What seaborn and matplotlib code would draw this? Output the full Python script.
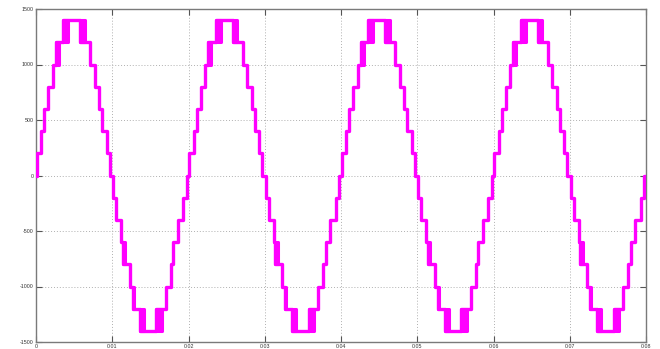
import matplotlib
matplotlib.use("Agg")
import matplotlib.pyplot as plt
import seaborn as sns
import numpy as np

# ---- data (one 50 Hz period, repeated 4 times) ----
period_starts = [0.0, 0.02, 0.04, 0.06]
# transition start time, transition end time (chatter band), level after transition
trans_start = [0.0001, 0.0007, 0.00105, 0.0016, 0.0022, 0.0026, 0.0036,
               0.0058, 0.0071, 0.0077, 0.0083, 0.0087, 0.0093, 0.0097,
               0.0101, 0.0105, 0.0112, 0.0114, 0.0123, 0.0127, 0.0136,
               0.0158, 0.0170, 0.0177, 0.0180, 0.0186, 0.0193, 0.0198]
trans_end = [0.0001, 0.0007, 0.00105, 0.0016, 0.0022, 0.0030, 0.0042,
             0.0064, 0.0071, 0.0077, 0.0083, 0.0087, 0.0093, 0.0097,
             0.0101, 0.0105, 0.0112, 0.0117, 0.0123, 0.0128, 0.0141,
             0.0165, 0.0170, 0.0177, 0.0180, 0.0186, 0.0193, 0.0198]
trans_level = [200, 400, 600, 800, 1000, 1200, 1400,
               1200, 1000, 800, 600, 400, 200, 0,
               -200, -400, -600, -800, -1000, -1200, -1400,
               -1200, -1000, -800, -600, -400, -200, 0]
x_ticks = [0, 0.01, 0.02, 0.03, 0.04, 0.05, 0.06, 0.07, 0.08]
x_tick_labels = ["0", "0.01", "0.02", "0.03", "0.04", "0.05", "0.06", "0.07", "0.08"]
y_ticks = [-1500, -1000, -500, 0, 500, 1000, 1500]
y_tick_labels = ["-1500", "-1000", "-500", "0", "500", "1000", "1500"]

MAG = "#ff00ff"

sns.set_theme(style="white")
plt.rcParams["font.family"] = ["Liberation Sans Narrow", "Liberation Sans", "DejaVu Sans"]

fig = plt.figure(figsize=(6.6, 3.49), dpi=100)
ax = fig.add_axes([36 / 660, 1 - 342 / 349, (646 - 36) / 660, (342 - 9) / 349])

# build staircase
t_pts = [0.0]
v_pts = [0]
bands = []
for p in period_starts:
    prev = v_pts[-1]
    for s, e, lv in zip(trans_start, trans_end, trans_level):
        t_pts.append(p + s)
        v_pts.append(lv)
        if e > s:
            bands.append((p + s, p + e, prev, lv))
        prev = lv
t_pts.append(0.08)
v_pts.append(v_pts[-1])

sns.lineplot(x=t_pts, y=v_pts, ax=ax, drawstyle="steps-post", estimator=None,
             sort=False, color=MAG, linewidth=2.4, zorder=3)
for t0, t1, a, b in bands:
    ax.fill_between([t0, t1], [a, a], [b, b], color=MAG, edgecolor=MAG,
                    linewidth=2.2, zorder=3)

ax.set_xlim(0, 0.08)
ax.set_ylim(-1500, 1500)
ax.set_xticks(x_ticks)
ax.set_xticklabels(x_tick_labels)
ax.set_yticks(y_ticks)
ax.set_yticklabels(y_tick_labels)

ax.grid(True, linestyle=(0, (1, 2)), color="#b0b0b0", linewidth=0.7)
for sp in ax.spines.values():
    sp.set_color("#7a7a7a")
    sp.set_linewidth(1.0)
ax.tick_params(axis="both", which="major", direction="in", length=4.5,
               width=0.8, color="#555555", labelsize=3.8, labelcolor="#333333",
               top=True, right=True, pad=1.5, bottom=True, left=True)
ax.set_facecolor("white")

fig.savefig("out.png", dpi=100, facecolor="white")
